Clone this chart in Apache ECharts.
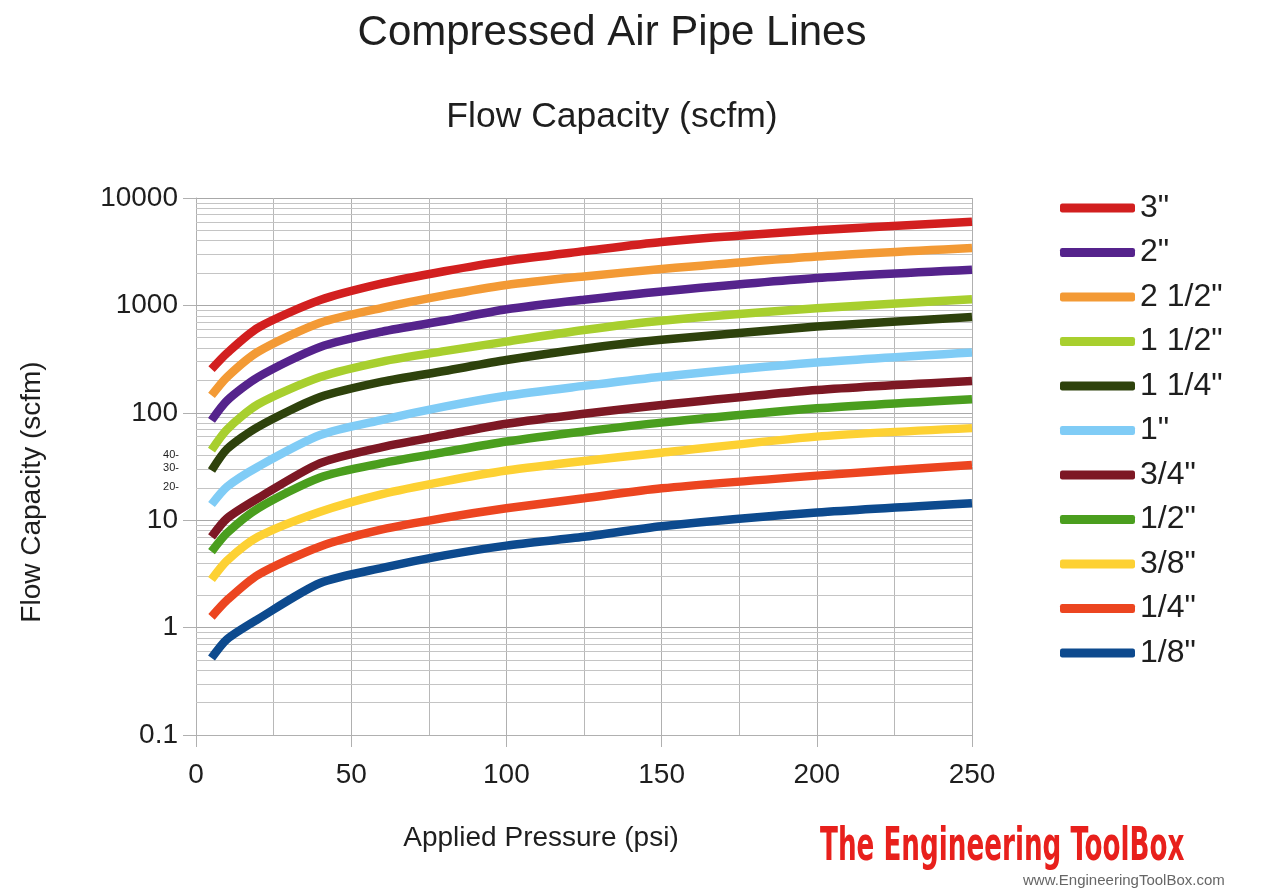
<!DOCTYPE html>
<html>
<head>
<meta charset="utf-8">
<script src="https://cdn.jsdelivr.net/npm/echarts@6/dist/echarts.min.js"></script>
<style>html,body{margin:0;padding:0;background:#fff;}#c{width:1279px;height:890px;}</style>
</head>
<body>
<div id="c"></div>
<script>
// Applied pressure (psi)
var pressures = [5, 10, 20, 40, 60, 80, 100, 125, 150, 200, 250];
// Pipe sizes (legend order)
var sizes = ['3"', '2"', '2 1/2"', '1 1/2"', '1 1/4"', '1"', '3/4"', '1/2"', '3/8"', '1/4"', '1/8"'];
// Flow capacity (scfm) per pipe size
var flow_3     = [255, 360, 620, 1120, 1600, 2080, 2600, 3200, 3900, 5000, 6000];
var flow_2     = [85, 130, 215, 410, 570, 720, 920, 1130, 1350, 1800, 2150];
var flow_2_1_2 = [145, 215, 370, 690, 950, 1240, 1550, 1860, 2180, 2850, 3420];
var flow_1_1_2 = [45, 70, 120, 215, 300, 375, 460, 590, 720, 940, 1140];
var flow_1_1_4 = [29, 46, 74, 140, 195, 245, 310, 395, 478, 635, 780];
var flow_1     = [14, 20.5, 31.5, 62, 86, 114, 144, 178, 217, 294, 364];
var flow_3_4   = [7, 10.4, 16, 34, 48, 62, 79, 98, 118, 163, 198];
var flow_1_2   = [5.1, 7.6, 12.9, 25, 34, 43, 54, 67, 81, 110, 134];
var flow_3_8   = [2.8, 4.2, 7.0, 12, 17.5, 23, 29, 35.6, 42.5, 60, 72];
var flow_1_4   = [1.26, 1.8, 3.1, 5.7, 8.2, 10.5, 12.9, 16, 19.8, 26, 32.7];
var flow_1_8   = [0.52, 0.78, 1.2, 2.6, 3.6, 4.7, 5.8, 7.0, 8.8, 11.8, 14.4];
// Y axis decades and minor grid values
var yDecades = [0.1, 1, 10, 100, 1000, 10000];
var yMinorMultipliers = [2, 3, 4, 5, 6, 7, 8, 9];

var flows = [flow_3, flow_2, flow_2_1_2, flow_1_1_2, flow_1_1_4, flow_1, flow_3_4, flow_1_2, flow_3_8, flow_1_4, flow_1_8];
var colors = ['#d21f1f', '#55238c', '#f39a35', '#a8cf2e', '#2e420c', '#80ccf6', '#7d1824', '#4a9e1e', '#fdd133', '#ec4520', '#0d4a8e'];

var minorVals = [];
for (var d = 0; d < yDecades.length - 1; d++) {
  for (var m = 0; m < yMinorMultipliers.length; m++) {
    minorVals.push({ yAxis: +(yDecades[d] * yMinorMultipliers[m]).toPrecision(3) });
  }
}

var series = [{
  name: '_grid',
  type: 'line',
  data: [],
  z: 1,
  zlevel: 0,
  silent: true,
  markLine: {
    silent: true,
    symbol: ['none', 'none'],
    label: { show: false },
    lineStyle: { color: '#c4c4c4', width: 1, type: 'solid' },
    emphasis: { disabled: true },
    animation: false,
    data: minorVals
  }
}];
for (var i = 0; i < sizes.length; i++) {
  var pts = [];
  for (var j = 0; j < pressures.length; j++) pts.push([pressures[j], flows[i][j]]);
  series.push({
    name: sizes[i],
    type: 'line',
    data: pts,
    symbol: 'none',
    smooth: 0.25,
    zlevel: 1,
    z: 3,
    lineStyle: { width: 8.5, color: colors[i], cap: 'butt' },
    itemStyle: { color: colors[i] }
  });
}

var chart = echarts.init(document.getElementById('c'));
chart.setOption({
  animation: false,
  backgroundColor: '#ffffff',
  textStyle: { fontFamily: 'Liberation Sans, Arial, sans-serif' },
  title: [
    { text: 'Compressed Air Pipe Lines', left: 607, top: 7, textAlign: 'center',
      textStyle: { fontSize: 42, fontWeight: 'normal', color: '#1e1e1e', fontFamily: 'Liberation Sans' } },
    { text: 'Flow Capacity (scfm)', left: 607, top: 94, textAlign: 'center',
      textStyle: { fontSize: 35.5, fontWeight: 'normal', color: '#1e1e1e', fontFamily: 'Liberation Sans' } }
  ],
  legend: {
    data: sizes,
    orient: 'vertical',
    left: 1055,
    top: 185,
    icon: 'roundRect',
    itemWidth: 75,
    itemHeight: 9,
    itemGap: 8.5,
    zlevel: 1,
    textStyle: { fontSize: 32, color: '#1e1e1e', lineHeight: 36, fontFamily: 'Liberation Sans' }
  },
  grid: { left: 196, right: 307, top: 198, bottom: 155, containLabel: false },
  xAxis: {
    type: 'value',
    min: 0,
    max: 250,
    interval: 50,
    axisLine: { show: true, lineStyle: { color: '#b0b0b0', width: 1 } },
    axisTick: { show: true, length: 12, lineStyle: { color: '#b0b0b0' } },
    minorTick: { show: false, splitNumber: 2 },
    minorSplitLine: { show: true, lineStyle: { color: '#b8b8b8', width: 1 } },
    splitLine: { show: true, lineStyle: { color: '#b0b0b0', width: 1 } },
    axisLabel: { fontSize: 28, color: '#1e1e1e', margin: 26, fontFamily: 'Liberation Sans' }
  },
  yAxis: {
    type: 'log',
    logBase: 10,
    min: 0.1,
    max: 10000,
    axisLine: { show: true, lineStyle: { color: '#b0b0b0', width: 1 } },
    axisTick: { show: true, length: 13, lineStyle: { color: '#b0b0b0' } },
    splitLine: { show: true, lineStyle: { color: '#a8a8a8', width: 1 } },
    minorTick: { show: false },
    minorSplitLine: { show: false },
    axisLabel: {
      fontSize: 28, color: '#1e1e1e', margin: 18, fontFamily: 'Liberation Sans',
      formatter: function (v) { return v < 1 ? (+v).toFixed(1) : String(Math.round(v)); }
    }
  },
  graphic: [
    { type: 'text', x: 541, y: 838, silent: true,
      style: { text: 'Applied Pressure (psi)', fontSize: 28, fill: '#1e1e1e', textAlign: 'center', textVerticalAlign: 'middle', fontFamily: 'Liberation Sans' } },
    { type: 'text', x: 32, y: 492, rotation: Math.PI / 2, silent: true,
      style: { text: 'Flow Capacity (scfm)', fontSize: 28, fill: '#1e1e1e', textAlign: 'center', textVerticalAlign: 'middle', fontFamily: 'Liberation Sans' } },
    { type: 'text', x: 179, y: 455, silent: true,
      style: { text: '40-', fontSize: 11, fill: '#1e1e1e', textAlign: 'right', textVerticalAlign: 'middle', fontFamily: 'Liberation Sans' } },
    { type: 'text', x: 179, y: 468, silent: true,
      style: { text: '30-', fontSize: 11, fill: '#1e1e1e', textAlign: 'right', textVerticalAlign: 'middle', fontFamily: 'Liberation Sans' } },
    { type: 'text', x: 179, y: 487, silent: true,
      style: { text: '20-', fontSize: 11, fill: '#1e1e1e', textAlign: 'right', textVerticalAlign: 'middle', fontFamily: 'Liberation Sans' } },
    { type: 'text', x: 820, y: 848, scaleX: 0.62, silent: true,
      style: { text: 'The Engineering ToolBox', fontSize: 47, fontWeight: 'bold', fill: '#e8201c', textAlign: 'left', textVerticalAlign: 'middle', fontFamily: 'Liberation Sans Narrow, DejaVu Sans Condensed, sans-serif' } },
    { type: 'text', x: 1023, y: 881, silent: true,
      style: { text: 'www.EngineeringToolBox.com', fontSize: 15, fill: '#666666', textAlign: 'left', textVerticalAlign: 'middle', fontFamily: 'Liberation Sans' } }
  ],
  series: series
});
</script>
</body>
</html>
